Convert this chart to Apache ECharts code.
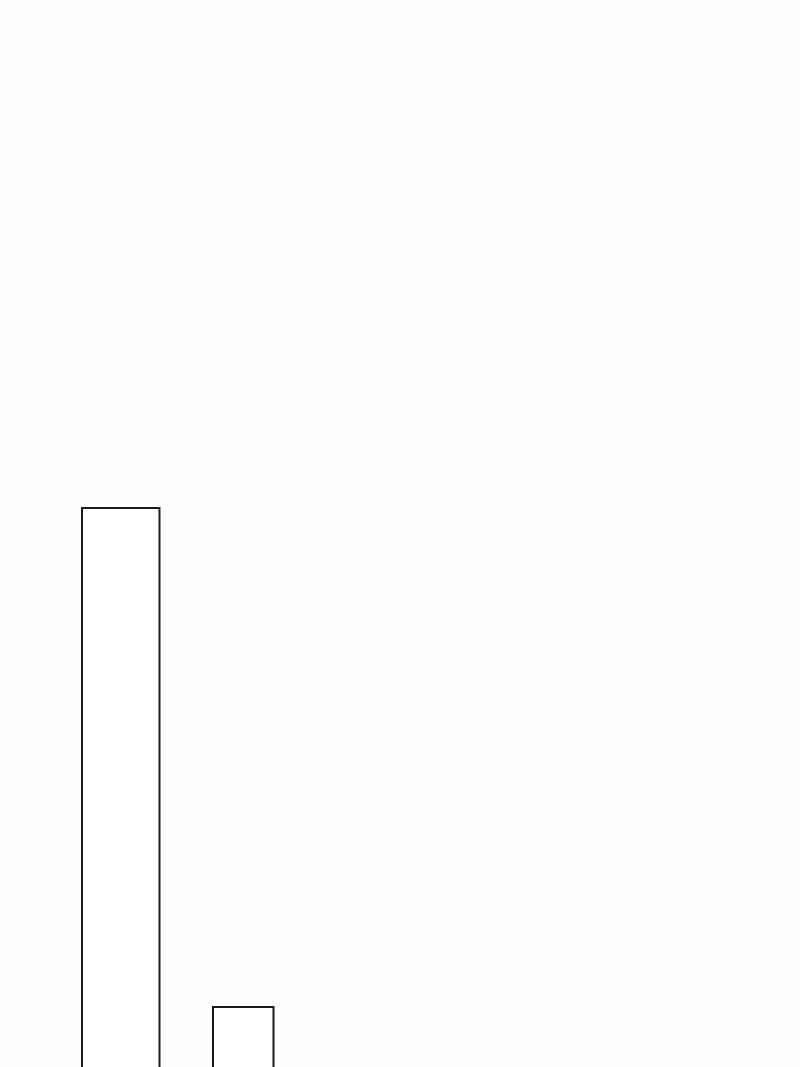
<!DOCTYPE html>
<html>
<head>
<meta charset="utf-8">
<script src="https://cdn.jsdelivr.net/npm/echarts@6/dist/echarts.min.js"></script>
<style>
html,body{margin:0;padding:0;background:#fefefe;}
#chart{width:800px;height:1067px;}
</style>
</head>
<body>
<div id="chart"></div>
<script>
// bin edges (start, end) and bar heights
var binStart = [8.2, 21.3];
var binEnd = [15.95, 27.35];
var barValues = [104.8, 11.25];

var data = binStart.map(function (s, i) { return [s, binEnd[i], barValues[i]]; });

var chart = echarts.init(document.getElementById('chart'));
chart.setOption({
  backgroundColor: '#fefefe',
  animation: false,
  grid: { left: 0, right: 0, top: 0, bottom: 0 },
  xAxis: { type: 'value', min: 0, max: 80, show: false },
  yAxis: { type: 'value', min: 0, max: 200, show: false },
  series: [{
    type: 'custom',
    data: data,
    clip: false,
    encode: { x: [0, 1], y: 2 },
    renderItem: function (params, api) {
      var p0 = api.coord([api.value(0), 0]);
      var p1 = api.coord([api.value(1), api.value(2)]);
      var baseY = p0[1] + 6; // base continues past the bottom edge
      return {
        type: 'rect',
        shape: { x: p0[0], y: p1[1], width: p1[0] - p0[0], height: baseY - p1[1] },
        style: { fill: '#ffffff', stroke: '#1a1a1a', lineWidth: 2 }
      };
    }
  }]
});
</script>
</body>
</html>
